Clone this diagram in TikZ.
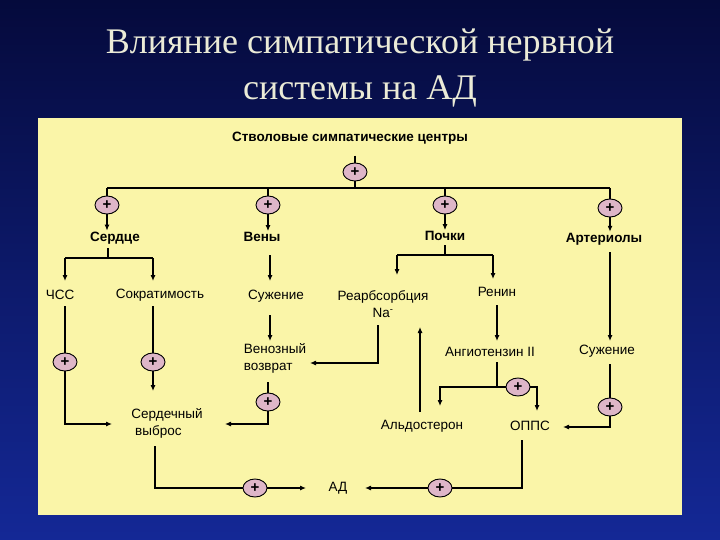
\documentclass[tikz,border=0pt]{standalone}
\usepackage{fontspec}
\setmainfont{Liberation Sans}
\newfontfamily\titlefont{Liberation Serif}
\usetikzlibrary{shapes.geometric,arrows.meta}
\definecolor{panel}{RGB}{250,245,168}
\definecolor{pinkp}{RGB}{222,182,200}
\definecolor{titlec}{RGB}{235,235,215}
\tikzset{
  lbl/.style={font=\fontsize{13.5}{17}\selectfont, inner sep=1pt, align=left},
  blbl/.style={font=\fontsize{13.5}{16}\selectfont\bfseries, inner sep=1pt},
  plus/.style={ellipse, draw=black, line width=0.9pt, fill=pinkp, minimum width=24, minimum height=18, inner sep=0pt, font=\fontsize{15}{15}\selectfont\bfseries},
  ln/.style={line width=1.1pt},
  arr/.style={line width=1.1pt, -{Latex[length=6pt,width=5pt]}}
}
\begin{document}
\begin{tikzpicture}[x=1pt,y=-1pt]
\shade[top color={rgb,255:red,5;green,10;blue,60}, bottom color={rgb,255:red,20;green,40;blue,150}] (0,0) rectangle (720,540);
\node[font=\titlefont\fontsize{36}{46}\selectfont, text=titlec, align=center] (title) at (360,68) {Влияние симпатической нервной\\системы на АД};
\fill[panel] (38,118) rectangle (682,515);

\node[blbl] (centr) at (350,138) {Стволовые симпатические центры};
\node[plus] (p0) at (355,172) {+};
\coordinate (busL) at (107,188);
\coordinate (busR) at (610,188);
\draw[ln] (busL) -- (busR);
\draw[ln] ([yshift=7pt]p0.north) -- (p0.north);
\draw[ln] (p0.south) -- (p0|-busL);

\node[plus] (p1) at (107,205) {+};
\node[plus] (p2) at (268,205) {+};
\node[plus] (p3) at (445,205) {+};
\node[plus] (p4) at (610,208) {+};
\node[blbl] (serd) at (115,238) {Сердце};
\node[blbl] (veny) at (262,237) {Вены};
\node[blbl] (pochki) at (445,236) {Почки};
\node[blbl] (arter) at (604,239) {Артериолы};
\foreach \p/\t in {p1/serd,p2/veny,p3/pochki,p4/arter}{
  \draw[ln] (\p|-busL) -- (\p.north);
  \draw[arr] (\p.south) -- (\p|-\t.north);
}

\node[lbl] (chss) at (60,295) {ЧСС};
\node[lbl] (sokr) at (160,295) {Сократимость};
\node[lbl] (suzh1) at (276,296) {Сужение};
\node[lbl, align=center] (reab) at (383,304) {Реарбсорбция\\Na\textsuperscript{-}};
\node[lbl] (renin) at (497,292) {Ренин};
\node[lbl] (suzh2) at (607,351) {Сужение};
\node[lbl] (angio) at (490,352) {Ангиотензин II};
\node[lbl] (venv) at (275,358) {Венозный\\возврат};
\node[lbl] (sv) at (167,423) {Сердечный\\\ выброс};
\node[lbl] (aldo) at (422,426) {Альдостерон};
\node[lbl] (opps) at (530,426) {ОППС};
\node[lbl] (ad) at (338,488) {АД};

% heart
\draw[ln] (108,248) -- (108,258);
\draw[ln] (65,258) -- (153,258);
\draw[arr] (65,258) -- (65,281);
\draw[arr] (153,258) -- (153,281);
% veins
\draw[arr] (270,255) -- (270,281);
% kidneys
\draw[ln] (445,245) -- (445,255);
\draw[ln] (397,255) -- (493,255);
\draw[arr] (397,255) -- (397,275);
\draw[arr] (493,255) -- (493,279);
% arterioles
\draw[arr] (610,252) -- (610,341);
% renin -> angiotensin
\draw[arr] (497,305) -- (497,341);

% ЧСС -> СВ
\node[plus] (p5) at (65,362) {+};
\draw[ln] (65,306) -- (p5.north);
\draw[arr] (p5.south) -- (65,424) -- (112,424);
% Сократимость -> СВ
\node[plus] (p6) at (153,362) {+};
\draw[ln] (153,306) -- (p6.north);
\draw[arr] (p6.south) -- (153,391);
% Сужение вен -> ВВ
\draw[arr] (270,315) -- (270,341);
% Реабсорбция -> ВВ
\draw[arr] (378,325) -- (378,363) -- (310,363);
% ВВ -> СВ
\node[plus] (p7) at (268,402) {+};
\draw[ln] (268,382) -- (p7.north);
\draw[arr] (p7.south) -- (268,424) -- (225,424);
% Ангиотензин
\node[plus] (p8) at (518,387) {+};
\draw[ln] (497,362) -- (497,387);
\draw[arr] (p8.west) -- (440,387) -- (440,406);
\draw[arr] (p8.east) -- (537,387) -- (537,411);
% Альдостерон -> реабсорбция
\draw[arr] (420,412) -- (420,327);
% Сужение арт -> ОППС
\node[plus] (p9) at (610,407) {+};
\draw[ln] (610,364) -- (p9.north);
\draw[arr] (p9.south) -- (610,427) -- (563,427);
% ОППС -> АД
\node[plus] (p10) at (440,488) {+};
\draw[ln] (522,440) -- (522,488) -- (p10.east);
\draw[arr] (p10.west) -- (365,488);
% СВ -> АД
\node[plus] (p11) at (255,488) {+};
\draw[ln] (155,446) -- (155,488) -- (p11.west);
\draw[arr] (p11.east) -- (306,488);
\end{tikzpicture}
\end{document}
